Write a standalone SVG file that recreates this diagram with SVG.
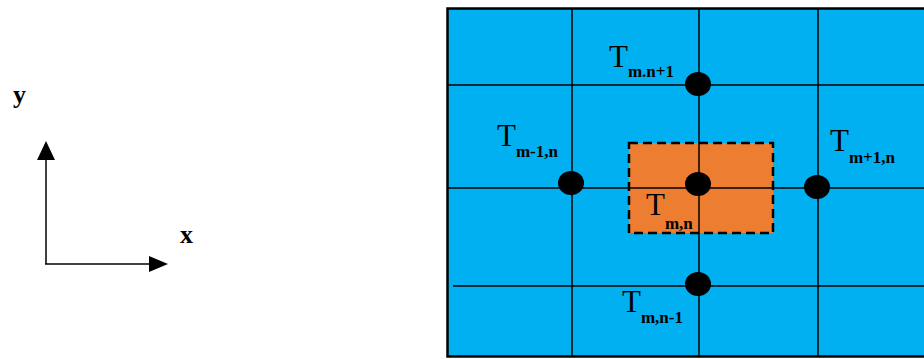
<svg xmlns="http://www.w3.org/2000/svg" width="924" height="359" viewBox="0 0 924 359">
<style>
.grid{stroke:#000;stroke-width:1.5;fill:none}
.dot{fill:#000}
.T{font-family:"Liberation Serif",serif;font-size:31px;fill:#000}
.s{font-family:"Liberation Serif",serif;font-size:17px;font-weight:bold;fill:#000}
.ax{font-family:"Liberation Serif",serif;font-size:26px;font-weight:bold;fill:#000}
</style>
<g id="axes">
<line x1="46" y1="264" x2="46" y2="150" stroke="#000" stroke-width="1.5"/>
<path d="M37,160 L46,141 L55,160 Z" fill="#000"/>
<line x1="45" y1="264" x2="155" y2="264" stroke="#000" stroke-width="1.5"/>
<path d="M149,256 L168,264 L149,272 Z" fill="#000"/>
<text class="ax" x="13" y="103">y</text>
<text class="ax" x="180" y="243">x</text>
</g>
<g id="domain">
<rect x="447.5" y="8.5" width="490" height="348" fill="#00B0F0" stroke="#000" stroke-width="2.5"/>
</g>
<g id="connectors">
<line class="grid" x1="572" y1="9" x2="572" y2="357"/>
<line class="grid" x1="699" y1="9" x2="699" y2="357"/>
<line class="grid" x1="818" y1="9" x2="818" y2="357"/>
<line class="grid" x1="448" y1="85" x2="924" y2="85"/>
<line class="grid" x1="448" y1="188" x2="924" y2="188"/>
<line class="grid" x1="453" y1="286" x2="924" y2="286"/>
</g>
<g id="cell">
<rect x="629" y="143" width="144" height="90" fill="#ED7D31" stroke="#000" stroke-width="2.5" stroke-dasharray="9,5"/>
<line class="grid" x1="699" y1="143" x2="699" y2="233"/>
<line class="grid" x1="629" y1="188" x2="773" y2="188"/>
</g>
<g id="node-top"><ellipse class="dot" cx="698" cy="84" rx="13" ry="12"/>
<text x="609" y="67"><tspan class="T">T</tspan><tspan class="s" dy="10">m.n+1</tspan></text></g>
<g id="node-left"><ellipse class="dot" cx="571" cy="183" rx="13" ry="12"/>
<text x="497" y="146"><tspan class="T">T</tspan><tspan class="s" dy="11">m-1,n</tspan></text></g>
<g id="node-center"><ellipse class="dot" cx="698" cy="184" rx="13" ry="12"/>
<text x="646" y="215"><tspan class="T">T</tspan><tspan class="s" dy="14">m,n</tspan></text></g>
<g id="node-right"><ellipse class="dot" cx="817" cy="187" rx="13" ry="12"/>
<text x="830" y="151"><tspan class="T">T</tspan><tspan class="s" dy="12">m+1,n</tspan></text></g>
<g id="node-bottom"><ellipse class="dot" cx="698" cy="284" rx="13" ry="12"/>
<text x="622" y="312"><tspan class="T">T</tspan><tspan class="s" dy="11">m,n-1</tspan></text></g>
</svg>
